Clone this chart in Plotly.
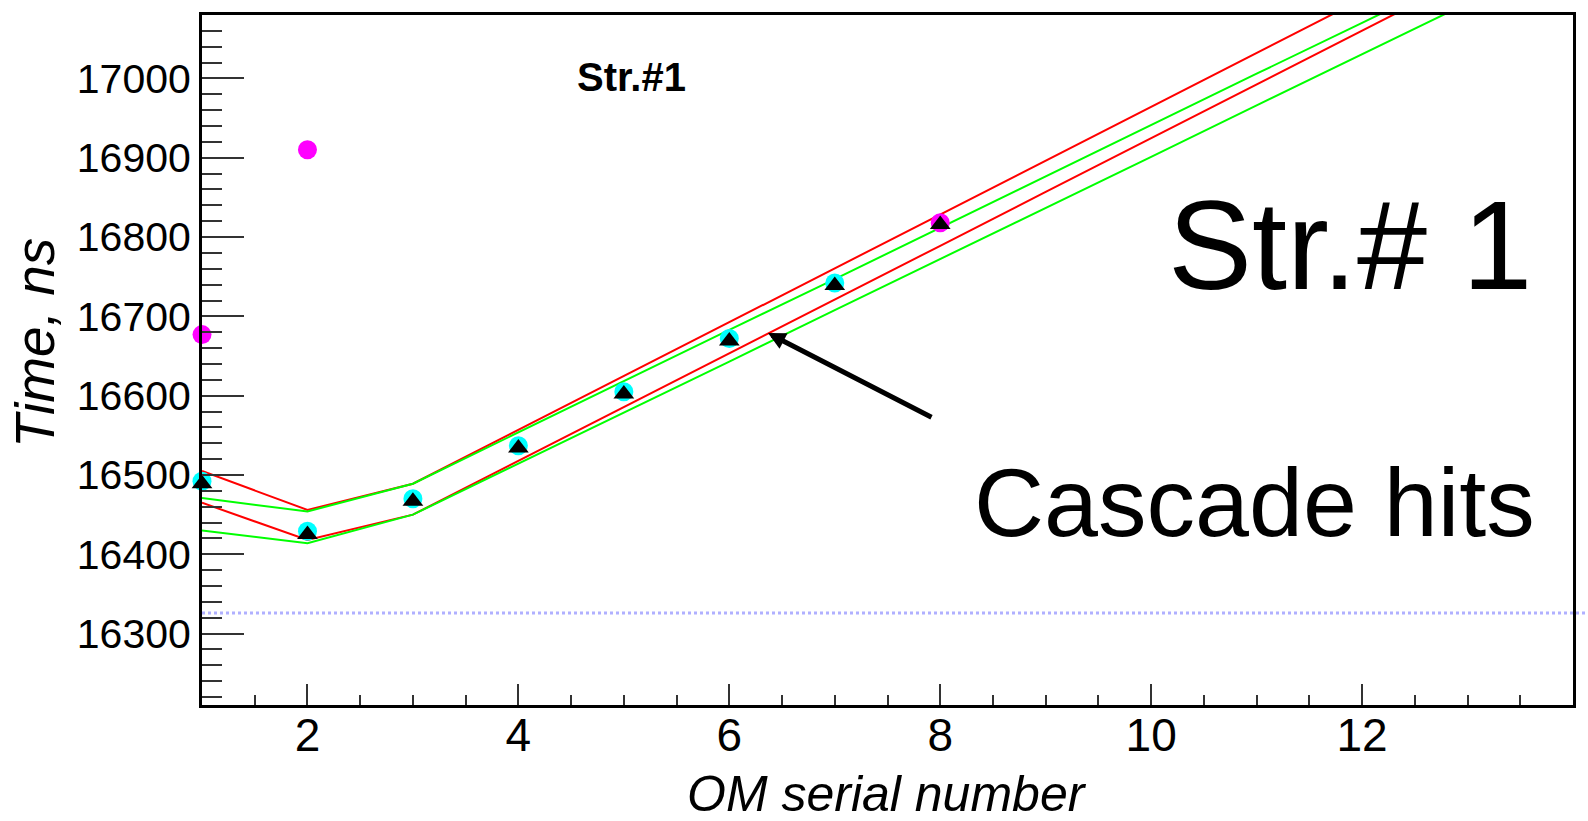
import plotly.graph_objects as go

# OM serial numbers along the string
om = [1, 2, 3, 4, 5, 6, 7, 8, 9, 10, 11, 12, 13]

# Expected-time corridors (ns) from the two fits
red_upper = [16505, 16456, 16489, 16557, 16625, 16693, 16760, 16828, 16896, 16964, 17032, 17100]
red_lower = [16465, 16418, 16450, 16518, 16586, 16654, 16721, 16789, 16857, 16925, 16993, 17061, 17128]
green_upper = [16471, 16454, 16489, 16554, 16618, 16683, 16747, 16812, 16877, 16941, 17006, 17070, 17135]
green_lower = [16430, 16414, 16450, 16514, 16579, 16643, 16708, 16772, 16837, 16901, 16966, 17030, 17095]

# Measured hit times (ns)
cyan_om = [1, 2, 3, 4, 5, 6, 7]
cyan_time = [16492, 16429, 16470, 16537, 16605, 16672, 16742]
magenta_om = [1, 2, 8]
magenta_time = [16677, 16910, 16818]
cascade_om = [1, 2, 3, 4, 5, 6, 7, 8]
cascade_time = [16489, 16425, 16467, 16534, 16602, 16669, 16739, 16816]

# Reference time level drawn as a dotted line
ref_level = 16326

X_RANGE = [1, 14]
Y_RANGE = [16210, 17080]
FONT = "Liberation Sans, Arial, Helvetica, sans-serif"

fig = go.Figure()

for ys, color in [(red_upper, "#ff0000"), (red_lower, "#ff0000"),
                  (green_upper, "#00ff00"), (green_lower, "#00ff00")]:
    fig.add_trace(go.Scatter(x=om[:len(ys)], y=ys, mode="lines",
                             line=dict(color=color, width=2), showlegend=False))

fig.add_trace(go.Scatter(x=cyan_om, y=cyan_time, mode="markers", cliponaxis=False,
                         marker=dict(symbol="circle", size=19, color="#00ffff"),
                         showlegend=False))
fig.add_trace(go.Scatter(x=magenta_om, y=magenta_time, mode="markers", cliponaxis=False,
                         marker=dict(symbol="circle", size=19, color="#ff00ff"),
                         showlegend=False))
fig.add_trace(go.Scatter(x=cascade_om, y=cascade_time, mode="markers", cliponaxis=False,
                         marker=dict(symbol="triangle-up", size=18, color="black"),
                         showlegend=False))

fig.add_shape(type="line", xref="paper", yref="y", x0=0, x1=1.02,
              y0=ref_level, y1=ref_level,
              line=dict(color="#b0b0ff", width=3, dash="dot"), layer="below")

# plot-area geometry (px) used to place the free text
L, R, T, B = 202, 1573, 13, 705


def px(xp, yp):
    return (xp - L) / (R - L), (B - yp) / (B - T)


annotations = []
for text, xp, yp, size, bold in [
    ("Str.#1", 631, 75, 40, True),
    ("Str.# 1", 1350, 244, 126, False),
    ("Cascade hits", 1254, 502, 97, False),
]:
    xa, ya = px(xp, yp)
    annotations.append(dict(xref="paper", yref="paper", x=xa, y=ya, showarrow=False,
                            text=f"<b>{text}</b>" if bold else text,
                            font=dict(family=FONT, size=size, color="black"),
                            xanchor="center", yanchor="middle"))

xa, ya = px(887, 794)
annotations.append(dict(xref="paper", yref="paper", x=xa, y=ya, showarrow=False,
                        text="<i>OM serial number</i>",
                        font=dict(family=FONT, size=50, color="black"),
                        xanchor="center", yanchor="middle"))
xa, ya = px(35, 342)
annotations.append(dict(xref="paper", yref="paper", x=xa, y=ya, showarrow=False,
                        text="<i>Time, ns</i>", textangle=-90,
                        font=dict(family=FONT, size=55, color="black"),
                        xanchor="center", yanchor="middle"))

# arrow pointing at the cascade corridor
xa, ya = px(768, 332)
annotations.append(dict(xref="paper", yref="paper", x=xa, y=ya, text="",
                        showarrow=True, ax=165, ay=85, arrowhead=2, arrowsize=0.7,
                        arrowwidth=5, arrowcolor="black"))

fig.update_layout(
    width=1588, height=821,
    margin=dict(l=L, r=1588 - R, t=T, b=821 - B),
    paper_bgcolor="white", plot_bgcolor="white",
    font=dict(family=FONT, color="black"),
    annotations=annotations,
    xaxis=dict(range=X_RANGE, tick0=0, dtick=2, ticks="inside", ticklen=21,
               tickwidth=1.5, tickcolor="#333333", showline=True, linewidth=3,
               linecolor="black", mirror=True, showgrid=False, zeroline=False,
               tickfont=dict(size=46, family=FONT), ticklabelstandoff=-12,
               minor=dict(dtick=0.5, tick0=0, ticks="inside", ticklen=10,
                          tickwidth=1.5, tickcolor="#333333", showgrid=False)),
    yaxis=dict(range=Y_RANGE, tick0=0, dtick=100, ticks="inside", ticklen=42,
               tickwidth=1.5, tickcolor="#333333", showline=True, linewidth=3,
               linecolor="black", mirror=True, showgrid=False, zeroline=False,
               tickformat="d", tickfont=dict(size=41, family=FONT),
               minor=dict(dtick=20, tick0=0, ticks="inside", ticklen=20,
                          tickwidth=1.5, tickcolor="#333333", showgrid=False)),
)

fig.write_html("out.html")
